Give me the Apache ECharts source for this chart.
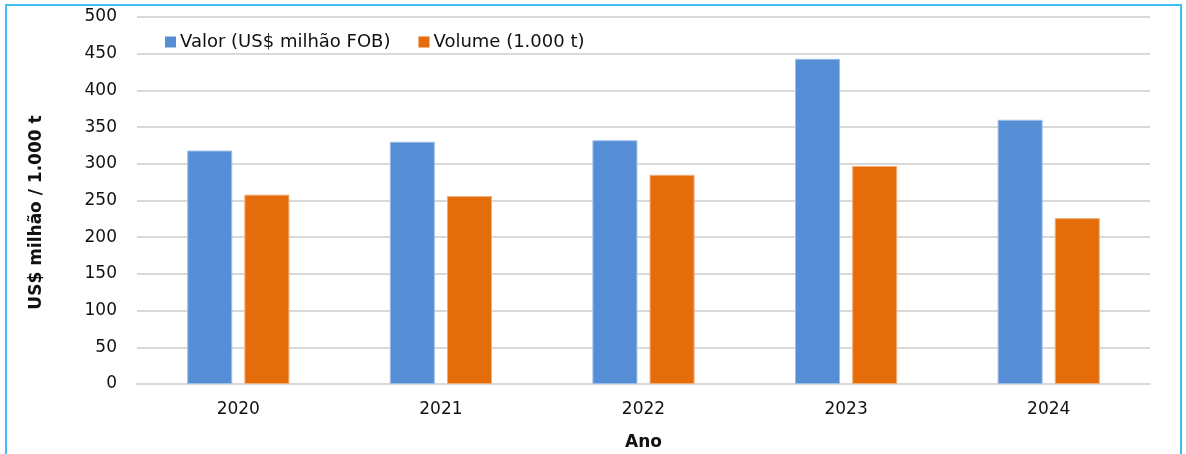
<!DOCTYPE html>
<html>
<head>
<meta charset="utf-8">
<title>Valor e Volume</title>
<script src="https://cdn.jsdelivr.net/npm/echarts@6/dist/echarts.min.js"></script>
<style>
    html, body { margin: 0; padding: 0; background: #fff; }
    #chart { width: 1186px; height: 454px; }
</style>
</head>
<body>
<div id="chart"></div>
<script>
const anos = ['2020', '2021', '2022', '2023', '2024'];
const valor = [318, 330, 332, 443, 360];
const volume = [258, 256, 285, 297, 226];
const yTicks = [0, 50, 100, 150, 200, 250, 300, 350, 400, 450, 500];

const fonte = 'DejaVu Sans';

const option = {
    animation: false,
    textStyle: { fontFamily: fonte },
    graphic: [
        {
            type: 'rect',
            shape: { x: 6, y: 5, width: 1175, height: 470 },
            style: { fill: 'none', stroke: '#3fbff0', lineWidth: 2 },
            silent: true
        }
    ],
    legend: {
        left: 160,
        top: 28,
        itemWidth: 11,
        itemHeight: 11,
        itemGap: 28,
        icon: 'rect',
        itemStyle: { borderWidth: 0 },
        textStyle: { fontFamily: fonte, fontSize: 18, color: '#111', padding: [0, 0, 0, -1] },
        data: ['Valor (US$ milhão FOB)', 'Volume (1.000 t)']
    },
    grid: {
        left: 137,
        right: 36,
        top: 17,
        bottom: 70,
        outerBoundsMode: 'none'
    },
    xAxis: {
        type: 'category',
        data: anos,
        name: 'Ano',
        nameLocation: 'middle',
        nameGap: 50,
        nameTextStyle: { fontFamily: fonte, fontSize: 17, fontWeight: 'bold', color: '#111' },
        axisLine: { lineStyle: { color: '#d9d9d9', width: 2 } },
        axisTick: { show: false },
        axisLabel: { fontFamily: fonte, fontSize: 17, color: '#111', margin: 17 }
    },
    yAxis: {
        type: 'value',
        min: yTicks[0],
        max: yTicks[yTicks.length - 1],
        interval: 50,
        name: 'US$ milhão / 1.000 t',
        nameLocation: 'middle',
        nameGap: 92,
        nameTextStyle: { fontFamily: fonte, fontSize: 17, fontWeight: 'bold', color: '#111', padding: [0, 24, 0, 0] },
        axisLine: { show: false },
        axisTick: { show: false },
        axisLabel: { fontFamily: fonte, fontSize: 17, color: '#111', margin: 20 },
        splitLine: { lineStyle: { color: '#d9d9d9', width: 2 } }
    },
    series: [
        {
            name: 'Valor (US$ milhão FOB)',
            type: 'bar',
            data: valor,
            barWidth: 45,
            barGap: '27%',
            itemStyle: { color: '#558ed5', borderColor: '#9dbde6', borderWidth: 1 }
        },
        {
            name: 'Volume (1.000 t)',
            type: 'bar',
            data: volume,
            barWidth: 45,
            barGap: '27%',
            itemStyle: { color: '#e46c0a', borderColor: '#f2ad75', borderWidth: 1 }
        }
    ]
};

let myChart = echarts.init(document.getElementById('chart'));
myChart.setOption(option);

window.onresize = function () {
    myChart.resize()
}
</script>
</body>
</html>
